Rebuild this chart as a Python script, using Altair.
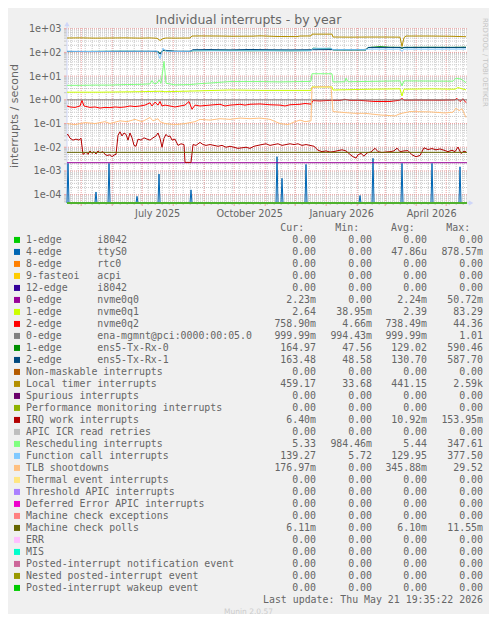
import altair as alt
import pandas as pd

# ---------------- time frame ----------------
START = pd.Timestamp("2025-04-16 19:35:22", tz="UTC")
SPAN_DAYS = 400

# ---------------- legend / series definitions ----------------
series_names = [
    "1-edge      i8042", "4-edge      ttyS0", "8-edge      rtc0", "9-fasteoi   acpi",
    "12-edge     i8042", "0-edge      nvme0q0", "1-edge      nvme0q1", "2-edge      nvme0q2",
    "0-edge      ena-mgmnt@pci:0000:00:05.0", "1-edge      ens5-Tx-Rx-0", "2-edge      ens5-Tx-Rx-1",
    "Non-maskable interrupts", "Local timer interrupts", "Spurious interrupts",
    "Performance monitoring interrupts", "IRQ work interrupts", "APIC ICR read retries",
    "Rescheduling interrupts", "Function call interrupts", "TLB shootdowns",
    "Thermal event interrupts", "Threshold APIC interrupts", "Deferred Error APIC interrupts",
    "Machine check exceptions", "Machine check polls", "ERR", "MIS",
    "Posted-interrupt notification event", "Nested posted-interrupt event",
    "Posted-interrupt wakeup event",
]
series_colors = [
    "#00CC00", "#0066B3", "#FF8000", "#FFCC00", "#330099", "#990099", "#CCFF00", "#FF0000",
    "#808080", "#008F00", "#00487D", "#B35A00", "#B38F00", "#6B006B", "#8FB300", "#B30000",
    "#BEBEBE", "#80FF80", "#80C9FF", "#FFC080", "#FFE680", "#AA80FF", "#EE00CC", "#FF8080",
    "#666600", "#FFBFFF", "#00FFCC", "#CC6699", "#999900", "#00CC00",
]
cur_vals = ["0.00", "0.00", "0.00", "0.00", "0.00", "2.23m", "2.64", "758.90m", "999.99m",
            "164.97", "163.48", "0.00", "459.17", "0.00", "0.00", "6.40m", "0.00", "5.33",
            "139.27", "176.97m", "0.00", "0.00", "0.00", "0.00", "6.11m", "0.00", "0.00",
            "0.00", "0.00", "0.00"]
min_vals = ["0.00", "0.00", "0.00", "0.00", "0.00", "0.00", "38.95m", "4.66m", "994.43m",
            "47.56", "48.58", "0.00", "33.68", "0.00", "0.00", "0.00", "0.00", "984.46m",
            "5.72", "0.00", "0.00", "0.00", "0.00", "0.00", "0.00", "0.00", "0.00",
            "0.00", "0.00", "0.00"]
avg_vals = ["0.00", "47.86u", "0.00", "0.00", "0.00", "2.24m", "2.39", "738.49m", "999.99m",
            "129.02", "130.70", "0.00", "441.15", "0.00", "0.00", "10.92m", "0.00", "5.44",
            "129.95", "345.88m", "0.00", "0.00", "0.00", "0.00", "6.10m", "0.00", "0.00",
            "0.00", "0.00", "0.00"]
max_vals = ["0.00", "878.57m", "0.00", "0.00", "0.00", "50.72m", "83.29", "44.36", "1.01",
            "590.46", "587.70", "0.00", "2.59k", "0.00", "0.00", "153.95m", "0.00", "347.61",
            "377.50", "29.52", "0.00", "0.00", "0.00", "0.00", "11.55m", "0.00", "0.00",
            "0.00", "0.00", "0.00"]

# ---------------- series values (day offset from start, rate) ----------------
ltimer_day = [0, 13, 28, 43, 58, 73, 83, 90, 93, 96, 99, 108, 123, 125, 133, 153, 165, 186,
              193, 210, 230, 233, 244, 245, 265, 266, 283, 303, 318, 333, 335, 337, 339, 363,
              383, 399]
ltimer_val = [405, 410, 400, 405, 410, 400, 408, 395, 320, 380, 405, 400, 405, 490, 495, 490,
              480, 485, 500, 470, 465, 490, 495, 590, 590, 446, 440, 445, 445, 440, 178, 420,
              490, 490, 480, 459]

txrx0_day = [0, 23, 53, 83, 91, 93, 96, 108, 123, 126, 143, 163, 183, 203, 223, 244, 246, 253,
             264, 266, 283, 299, 301, 313, 323, 333, 335, 337, 363, 383, 399]
txrx0_val = [108, 110, 112, 110, 108, 90, 120, 110, 110, 118, 120, 122, 118, 120, 118, 120, 150,
             145, 148, 128, 128, 128, 160, 175, 165, 163, 150, 163, 164, 163, 165]

txrx1_day = [0, 23, 53, 83, 91, 93, 96, 108, 123, 126, 143, 163, 183, 203, 223, 244, 246, 264,
             266, 283, 299, 301, 323, 333, 335, 337, 363, 383, 399]
txrx1_val = [110, 108, 110, 111, 110, 85, 125, 112, 111, 130, 132, 128, 133, 130, 128, 130, 130,
             132, 129, 128, 129, 162, 162, 162, 150, 162, 163, 162, 163]

fcall_day = [0, 23, 53, 83, 90, 93, 96, 99, 108, 123, 126, 143, 163, 183, 203, 223, 244, 246,
             264, 266, 283, 299, 301, 323, 333, 335, 337, 363, 383, 399]
fcall_val = [112, 110, 113, 112, 115, 55, 150, 112, 110, 112, 117, 118, 116, 118, 117, 116, 118,
             148, 150, 130, 130, 130, 138, 137, 138, 110, 138, 137, 138, 139]

resched_day = [0, 13, 28, 43, 58, 73, 83, 85, 87, 90, 92, 94, 97, 99, 108, 123, 133, 148, 163,
               193, 213, 233, 244, 245, 265, 266, 278, 279, 281, 303, 333, 335, 337, 363, 386,
               389, 394, 399]
resched_val = [4.1, 4.1, 4.2, 4.2, 4.4, 4.5, 4.7, 6.5, 4.8, 5.0, 7.0, 5.0, 42, 5.0, 4.3, 4.4,
               4.8, 5.3, 5.9, 5.9, 5.7, 5.9, 6.0, 12.6, 12.6, 5.7, 5.8, 8.2, 5.8, 6.0, 6.3, 3.9,
               6.3, 6.2, 6.1, 8.2, 7.5, 5.3]

nvq1_day = [0, 33, 73, 93, 98, 133, 163, 193, 244, 245, 265, 266, 303, 333, 335, 337, 363, 388,
            391, 395, 399]
nvq1_val = [2.1, 2.1, 2.2, 2.3, 2.2, 2.4, 2.6, 2.5, 2.5, 3.5, 3.5, 2.6, 2.8, 2.9, 1.45, 2.8, 2.9,
            2.8, 3.3, 2.9, 2.64]

nvq2_day = [0, 3, 8, 13, 15, 17, 23, 28, 33, 38, 43, 48, 53, 58, 63, 68, 73, 78, 83, 85, 88, 91,
            93, 95, 98, 103, 108, 113, 118, 122, 125, 128, 133, 143, 153, 158, 163, 168, 173,
            178, 183, 193, 203, 213, 218, 223, 233, 238, 244, 246, 253, 263, 273, 278, 283, 293,
            308, 323, 333, 335, 337, 353, 373, 388, 390, 393, 396, 399]
nvq2_val = [0.55, 0.5, 0.48, 0.55, 0.95, 0.55, 0.48, 0.5, 0.45, 0.48, 0.47, 0.5, 0.48, 0.5, 0.55,
            0.52, 0.55, 0.6, 0.75, 0.55, 0.8, 0.6, 0.85, 0.55, 0.6, 0.55, 0.5, 0.55, 0.6, 0.85,
            0.4, 0.6, 0.55, 0.6, 0.65, 0.55, 0.6, 0.62, 0.65, 0.6, 0.65, 0.67, 0.62, 0.6, 0.55,
            0.62, 0.65, 0.7, 0.66, 0.93, 0.9, 0.95, 0.95, 1.05, 0.95, 0.95, 0.85, 0.85, 0.97,
            1.15, 0.97, 0.98, 0.97, 1.0, 1.15, 0.85, 1.1, 0.76]

tlb_day = [0, 8, 18, 28, 38, 43, 53, 60, 68, 75, 83, 86, 91, 93, 98, 108, 118, 128, 133, 143,
           153, 163, 173, 183, 193, 203, 213, 221, 228, 233, 238, 244, 245, 253, 264, 266, 278,
           288, 298, 313, 328, 333, 343, 363, 378, 386, 389, 392, 395, 399]
tlb_val = [0.10, 0.09, 0.11, 0.10, 0.12, 0.10, 0.13, 0.12, 0.15, 0.12, 0.18, 0.13, 0.16, 0.12,
           0.10, 0.09, 0.10, 0.12, 0.15, 0.14, 0.16, 0.15, 0.17, 0.16, 0.17, 0.15, 0.10, 0.09,
           0.12, 0.14, 0.12, 0.13, 3.3, 3.6, 3.5, 0.32, 0.29, 0.27, 0.27, 0.23, 0.21, 0.26, 0.32,
           0.31, 0.28, 0.3, 0.45, 0.35, 0.42, 0.18]

irq_day = [0, 1, 3, 6, 9, 12, 14, 16, 19, 21, 23, 25, 27, 29, 31, 33, 36, 38, 40, 43, 45, 47,
           49, 51, 53, 55, 57, 59, 61, 63, 65, 67, 69, 71, 74, 77, 80, 83, 86, 89, 91, 93, 95, 97,
           99, 101, 103, 105, 108, 111, 114, 117, 118, 124, 126, 129, 133, 136, 139, 143, 147,
           151, 155, 159, 163, 167, 171, 175, 179, 183, 187, 191, 195, 199, 203, 207, 211, 215,
           219, 223, 227, 231, 235, 239, 243, 247, 251, 255, 259, 263, 267, 271, 275, 279, 283,
           286, 289, 291, 294, 297, 300, 304, 308, 311, 315, 319, 323, 327, 330, 333, 337, 341,
           345, 349, 353, 357, 361, 365, 369, 373, 377, 381, 385, 388, 391, 394, 397, 399]
irq_val = [0.033, 0.035, 0.024, 0.02, 0.022, 0.02, 0.024, 0.005, 0.0062, 0.005,
           0.007, 0.0055, 0.0065, 0.0052, 0.007, 0.0058, 0.0065, 0.005, 0.0045, 0.0048,
           0.004, 0.0047, 0.005, 0.032, 0.045, 0.03, 0.04, 0.035, 0.02, 0.04,
           0.025, 0.012, 0.011, 0.022, 0.02, 0.025, 0.022, 0.02, 0.025, 0.03,
           0.04, 0.024, 0.01, 0.024, 0.035, 0.028, 0.03, 0.02, 0.022, 0.012,
           0.014, 0.013, 0.0023, 0.0023, 0.013, 0.012, 0.016, 0.013, 0.012, 0.013,
           0.012, 0.011, 0.012, 0.010, 0.011, 0.010, 0.009, 0.0095, 0.01, 0.009,
           0.011, 0.012, 0.013, 0.014, 0.012, 0.013, 0.014, 0.012, 0.013, 0.014,
           0.013, 0.014, 0.012, 0.013, 0.012, 0.011, 0.0075, 0.0065, 0.007, 0.0063,
           0.0066, 0.0072, 0.0078, 0.007, 0.005, 0.004, 0.0035, 0.0048, 0.0055, 0.0042,
           0.0058, 0.0063, 0.0091, 0.0065, 0.006, 0.0063, 0.0065, 0.007, 0.0092, 0.0065,
           0.007, 0.0072, 0.0048, 0.004, 0.0045, 0.0095, 0.008, 0.0088, 0.0078, 0.0085,
           0.0075, 0.0065, 0.0075, 0.0065, 0.0102, 0.0055, 0.0068, 0.0064]

ttys0_spike_day = [1, 29, 42, 70, 92, 124, 210, 215, 239, 293, 306, 335, 365, 393]
ttys0_spike_val = [0.0021, 1.3e-4, 0.0021, 8.5e-5, 7.4e-4, 1.6e-4, 0.004, 4.9e-4, 0.0019,
                   9.2e-5, 0.0034, 0.0021, 0.0021, 0.0015]

flat_levels = {
    "0-edge      nvme0q0": 0.00223,
    "0-edge      ena-mgmnt@pci:0000:00:05.0": 0.99999,
    "Machine check polls": 0.0061,
}

# ---------------- build the long table ----------------
def ms(d):
    return int((START + pd.Timedelta(days=d)).value // 1_000_000)

records = []


def add(name, days, vals):
    if len(days) != len(vals):
        raise ValueError(name)
    for d, v in zip(days, vals):
        records.append({"name": name, "t": ms(d), "v": v})


tty_days, tty_vals = [0], [0.0]
for d, v in zip(ttys0_spike_day, ttys0_spike_val):
    tty_days += [d - 1, d, d + 1]
    tty_vals += [0.0, v, 0.0]
tty_days.append(SPAN_DAYS)
tty_vals.append(0.0)

explicit = {
    "4-edge      ttyS0": (tty_days, tty_vals),
    "1-edge      nvme0q1": (nvq1_day, nvq1_val),
    "2-edge      nvme0q2": (nvq2_day, nvq2_val),
    "1-edge      ens5-Tx-Rx-0": (txrx0_day, txrx0_val),
    "2-edge      ens5-Tx-Rx-1": (txrx1_day, txrx1_val),
    "Local timer interrupts": (ltimer_day, ltimer_val),
    "IRQ work interrupts": (irq_day, irq_val),
    "Rescheduling interrupts": (resched_day, resched_val),
    "Function call interrupts": (fcall_day, fcall_val),
    "TLB shootdowns": (tlb_day, tlb_val),
}
for nm in series_names:
    if nm in explicit:
        add(nm, *explicit[nm])
    elif nm in flat_levels:
        add(nm, [0, SPAN_DAYS], [flat_levels[nm]] * 2)
    else:
        add(nm, [0, SPAN_DAYS], [0.0, 0.0])
series_df = pd.DataFrame(records)

# ---------------- grid tables ----------------
Y_LO, Y_HI = 4.46e-5, 1070.0
y_major = [10.0 ** e for e in range(-4, 4)]
y_minor = [k * 10.0 ** e for e in range(-5, 3) for k in range(2, 10)
           if Y_LO <= k * 10.0 ** e <= Y_HI]
month_starts = [int(t.value // 1_000_000) for t in
                pd.date_range("2025-05-01", "2026-05-01", freq="MS", tz="UTC")]
week_starts = [int(t.value // 1_000_000) for t in
               pd.date_range("2025-04-21", "2026-05-18", freq="7D", tz="UTC")]
ymaj_df = pd.DataFrame({"y": y_major})
ymin_df = pd.DataFrame({"y": y_minor})
xmaj_df = pd.DataFrame({"t": month_starts})
xmin_df = pd.DataFrame({"t": week_starts})

FONT = "DejaVu Sans"
MONO = "DejaVu Sans Mono"
FONT_COL = "#666666"
GRID_COL = "#c6c6c6"
MGRID_COL = "#eba0a0"
AXIS_COL = "#CFD6F8"

x_scale = alt.Scale(type="utc", domain=[ms(0), ms(SPAN_DAYS)], nice=False)
y_scale = alt.Scale(type="log", domain=[Y_LO, Y_HI], clamp=True, nice=False)

x_axis = alt.Axis(
    values=[alt.DateTime(year=2025, month=7, date=16, utc=True),
            alt.DateTime(year=2025, month=10, date=16, utc=True),
            alt.DateTime(year=2026, month=1, date=16, utc=True),
            alt.DateTime(year=2026, month=4, date=16, utc=True)],
    format="%B %Y", ticks=False, tickSize=0, domain=False, grid=False,
    labelFont=FONT, labelFontSize=9.7, labelColor=FONT_COL, labelPadding=13,
    labelBaseline="alphabetic", labelFlush=False, labelOverlap=False, title=None,
)
y_axis = alt.Axis(
    values=y_major, orient="left",
    labelExpr="'1e' + (datum.value >= 1 ? '+' : '-') + '0' + format(abs(round(log(datum.value) / LN10)), 'd')",
    ticks=False, tickSize=0, domain=False, grid=False,
    labelFont=FONT, labelFontSize=9.7, labelColor=FONT_COL, labelPadding=6,
    labelFlush=False, labelOverlap=False,
    title="interrupts / second", titleFont=FONT, titleFontSize=11, titleFontWeight="normal",
    titleColor=FONT_COL, titleAngle=270, titleAlign="center", titleBaseline="alphabetic",
    titleX=-50, titleY=87.5,
)


def X(field):
    return alt.X(f"{field}:T", scale=x_scale, axis=x_axis)


def Y(field):
    return alt.Y(f"{field}:Q", scale=y_scale, axis=y_axis)


color_scale = alt.Scale(domain=series_names, range=series_colors)
one = pd.DataFrame({"k": [0]})

layers = []
# grids
layers.append(alt.Chart(ymin_df).mark_rule(color=GRID_COL, strokeWidth=1, strokeDash=[1, 1])
              .encode(y=Y("y")))
layers.append(alt.Chart(xmin_df).mark_rule(color=GRID_COL, strokeWidth=1, strokeDash=[1, 1])
              .encode(x=X("t")))
layers.append(alt.Chart(ymaj_df).mark_rule(color=MGRID_COL, strokeWidth=1, strokeDash=[1, 1])
              .encode(y=Y("y")))
layers.append(alt.Chart(xmaj_df).mark_rule(color=MGRID_COL, strokeWidth=1, strokeDash=[1, 1])
              .encode(x=X("t")))
# ticks outside the canvas
layers.append(alt.Chart(ymin_df).mark_rule(color=GRID_COL, strokeWidth=1)
              .encode(y=Y("y"), x=alt.value(-3), x2=alt.value(0)))
layers.append(alt.Chart(ymaj_df).mark_rule(color=MGRID_COL, strokeWidth=1)
              .encode(y=Y("y"), x=alt.value(-3), x2=alt.value(0)))
layers.append(alt.Chart(xmin_df).mark_rule(color=GRID_COL, strokeWidth=1)
              .encode(x=X("t"), y=alt.value(175), y2=alt.value(177)))
layers.append(alt.Chart(xmaj_df).mark_rule(color=MGRID_COL, strokeWidth=1)
              .encode(x=X("t"), y=alt.value(175), y2=alt.value(178)))
# axis lines and arrows
layers.append(alt.Chart(one).mark_rule(color=AXIS_COL, strokeWidth=1)
              .encode(x=alt.value(0), y=alt.value(-4), y2=alt.value(175)))
layers.append(alt.Chart(one).mark_rule(color=AXIS_COL, strokeWidth=1)
              .encode(x=alt.value(0), x2=alt.value(404), y=alt.value(175)))
layers.append(alt.Chart(one).mark_point(shape="triangle-up", filled=True, size=28,
                                         color=AXIS_COL, opacity=1)
              .encode(x=alt.value(0), y=alt.value(-4)))
layers.append(alt.Chart(one).mark_point(shape="triangle-right", filled=True, size=28,
                                         color=AXIS_COL, opacity=1)
              .encode(x=alt.value(404), y=alt.value(175)))
# data series in legend order
for nm in series_names:
    layers.append(
        alt.Chart(series_df)
        .transform_filter(alt.datum.name == nm)
        .transform_calculate(pv="max(datum.v, 1e-9)")
        .mark_line(strokeWidth=1, interpolate="linear")
        .encode(x=X("t"), y=Y("pv"),
                color=alt.Color("name:N", scale=color_scale, legend=None))
    )
# title and rrdtool signature
layers.append(alt.Chart(pd.DataFrame({"s": ["Individual interrupts - by year"]}))
              .mark_text(font=FONT, fontSize=12.5, color=FONT_COL, align="center",
                         baseline="alphabetic")
              .encode(text="s:N", x=alt.value(181.5), y=alt.value(-4)))
layers.append(alt.Chart(pd.DataFrame({"s": ["RRDTOOL / TOBI OETIKER"]}))
              .mark_text(font=FONT, fontSize=6.9, color="#c4c4c4", align="left",
                         baseline="alphabetic", angle=90)
              .encode(text="s:N", x=alt.value(415.5), y=alt.value(-10)))
plot = alt.layer(*layers)

# ---------------- legend block ----------------
def padv(s):
    return s if s[-1].isalpha() else s + "\u00a0"


legend_df = pd.DataFrame({
    "row": list(range(len(series_names))),
    "name": series_names,
    "label": [n.replace(" ", "\u00a0") for n in series_names],
    "cur": [padv(v) for v in cur_vals],
    "mn": [padv(v) for v in min_vals],
    "av": [padv(v) for v in avg_vals],
    "mx": [padv(v) for v in max_vals],
})
row_scale = alt.Scale(domain=[-1, 31], range=[203.3, 587.3], nice=False, zero=False)
RY = alt.Y("row:Q", scale=row_scale, axis=None)

leg_layers = []
leg_layers.append(alt.Chart(legend_df).transform_calculate(rs="datum.row - 0.28")
                  .mark_square(size=36, filled=True, opacity=1)
                  .encode(x=alt.value(-50), y=alt.Y("rs:Q", scale=row_scale, axis=None),
                          color=alt.Color("name:N", scale=color_scale, legend=None)))
leg_layers.append(alt.Chart(legend_df)
                  .mark_text(font=MONO, fontSize=9.9, color=FONT_COL, align="left",
                             baseline="alphabetic")
                  .encode(x=alt.value(-41), y=RY, text="label:N"))
for col, xr in [("cur", 249), ("mn", 305), ("av", 360), ("mx", 416)]:
    leg_layers.append(alt.Chart(legend_df)
                      .mark_text(font=MONO, fontSize=9.9, color=FONT_COL, align="right",
                                 baseline="alphabetic")
                      .encode(x=alt.value(xr), y=RY, text=f"{col}:N"))
head_df = pd.DataFrame({"row": [-1], "a": ["Cur:"], "b": ["Min:"], "c": ["Avg:"], "d": ["Max:"]})
for col, xl in [("a", 213.3), ("b", 268.3), ("c", 324), ("d", 379.3)]:
    leg_layers.append(alt.Chart(head_df)
                      .mark_text(font=MONO, fontSize=9.9, color=FONT_COL, align="left",
                                 baseline="alphabetic")
                      .encode(x=alt.value(xl), y=RY, text=f"{col}:N"))
foot_df = pd.DataFrame({"row": [30], "s": ["Last update: Thu May 21 19:35:22 2026"]})
leg_layers.append(alt.Chart(foot_df)
                  .mark_text(font=MONO, fontSize=9.9, color=FONT_COL, align="right",
                             baseline="alphabetic")
                  .encode(x=alt.value(416), y=RY, text="s:N"))
munin_df = pd.DataFrame({"row": [30.85], "s": ["Munin 2.0.57"]})
leg_layers.append(alt.Chart(munin_df)
                  .mark_text(font=FONT, fontSize=7.5, color="#cccccc", align="center",
                             baseline="alphabetic")
                  .encode(x=alt.value(181.5), y=RY, text="s:N"))
legend = alt.layer(*leg_layers)

chart = (
    alt.layer(plot, legend)
    .resolve_scale(y="independent")
    .properties(width=400, height=175,
                padding={"left": 59, "top": 20, "right": 22, "bottom": 411},
                autosize=alt.AutoSizeParams(type="none"),
                background="#F0F0F0")
    .configure_view(fill="white", strokeWidth=0)
)

chart.save("out.html", embed_options={"renderer": "svg", "actions": False})
